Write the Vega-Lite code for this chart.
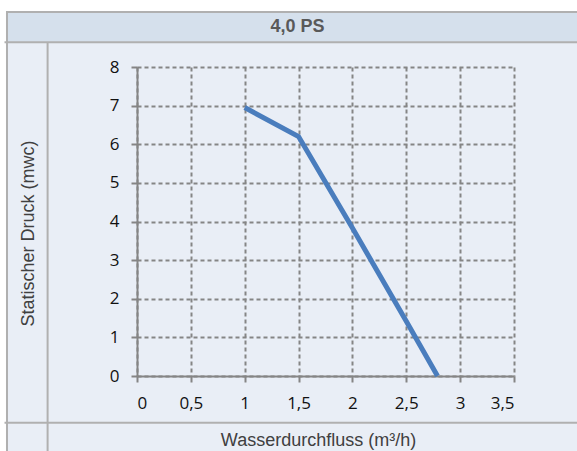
{
  "$schema": "https://vega.github.io/schema/vega-lite/v6.json",
  "autosize": {"type": "none"},
  "width": 377,
  "height": 309,
  "padding": {"left": 137, "top": 67, "right": 63, "bottom": 75},
  "background": "#e9eef6",
  "config": {
    "view": {"stroke": null},
    "axis": {
      "labelOverlap": false,
      "grid": true, "gridDash": [4, 3], "gridColor": "#858585", "gridWidth": 2,
      "domainColor": "#858585", "domainWidth": 2,
      "tickColor": "#858585", "tickWidth": 2, "tickSize": 6,
      "labelFont": "Open Sans", "labelFontSize": 17, "labelColor": "#111111",
      "titleFont": "Liberation Sans", "titleFontSize": 18, "titleFontWeight": "normal", "titleColor": "#404040",
      "titleBaseline": "middle", "titleAlign": "center"
    },
    "axisX": {
      "tickCount": 7,
      "labelExpr": "replace(format(datum.value, '~g'), '.', ',')",
      "labelPadding": 13,
      "titleX": 181, "titleY": 64
    },
    "axisY": {
      "tickCount": 8,
      "labelPadding": 12,
      "titleX": -109, "titleY": 166, "titleAngle": -90
    }
  },
  "data": {"values": [
    {"q": 1, "p": 6.95},
    {"q": 1.5, "p": 6.2},
    {"q": 2, "p": 3.83},
    {"q": 2.5, "p": 1.42},
    {"q": 2.79, "p": 0}
  ]},
  "layer": [
    {
      "data": {"values": [{}]},
      "mark": {"type": "rect", "fill": "white", "strokeWidth": 0},
      "encoding": {
        "x": {"datum": -1.6, "type": "quantitative"},
        "x2": {"datum": 4.8},
        "y": {"datum": 10.5, "type": "quantitative"},
        "y2": {"datum": 9.424}
      }
    },
    {
      "data": {"values": [{}]},
      "mark": {"type": "rect", "fill": "white", "strokeWidth": 0},
      "encoding": {
        "x": {"datum": -1.6, "type": "quantitative"},
        "x2": {"datum": -1.207},
        "y": {"datum": 10.5, "type": "quantitative"},
        "y2": {"datum": -2.6}
      }
    },
    {
      "data": {"values": [{}]},
      "mark": {"type": "rect", "fill": "#d5e0ec", "strokeWidth": 0},
      "encoding": {
        "x": {"datum": -1.207, "type": "quantitative"},
        "x2": {"datum": 4.8},
        "y": {"datum": 9.424, "type": "quantitative"},
        "y2": {"datum": 8.64}
      }
    },
    {
      "data": {"values": [{}]},
      "mark": {"type": "rule", "color": "#b0b0b0", "strokeWidth": 2},
      "encoding": {
        "x": {"datum": -1.215, "type": "quantitative"},
        "x2": {"datum": 4.8},
        "y": {"datum": 9.424, "type": "quantitative"}
      }
    },
    {
      "data": {"values": [{}]},
      "mark": {"type": "rule", "color": "#b0b0b0", "strokeWidth": 2},
      "encoding": {
        "x": {"datum": -1.23, "type": "quantitative"},
        "x2": {"datum": 4.8},
        "y": {"datum": 8.64, "type": "quantitative"}
      }
    },
    {
      "data": {"values": [{}]},
      "mark": {"type": "rule", "color": "#b0b0b0", "strokeWidth": 2},
      "encoding": {
        "x": {"datum": -1.23, "type": "quantitative"},
        "x2": {"datum": 4.8},
        "y": {"datum": -1.209, "type": "quantitative"}
      }
    },
    {
      "data": {"values": [{}]},
      "mark": {"type": "rule", "color": "#b0b0b0", "strokeWidth": 2},
      "encoding": {
        "x": {"datum": -1.207, "type": "quantitative"},
        "y": {"datum": 9.45, "type": "quantitative"},
        "y2": {"datum": -2.6}
      }
    },
    {
      "data": {"values": [{}]},
      "mark": {"type": "rule", "color": "#b0b0b0", "strokeWidth": 2},
      "encoding": {
        "x": {"datum": -0.83, "type": "quantitative"},
        "y": {"datum": 8.64, "type": "quantitative"},
        "y2": {"datum": -2.6}
      }
    },
    {
      "data": {"values": [{}]},
      "mark": {"type": "text", "font": "Liberation Sans", "fontSize": 18, "fontWeight": "bold", "color": "#595959", "align": "center", "baseline": "middle"},
      "encoding": {
        "x": {"datum": 1.49, "type": "quantitative"},
        "y": {"datum": 9.03, "type": "quantitative"},
        "text": {"value": "4,0 PS"}
      }
    },
    {
      "mark": {"type": "line", "color": "#4a7dbd", "strokeWidth": 5},
      "encoding": {
        "x": {
          "field": "q", "type": "quantitative",
          "scale": {"domain": [0, 3.5], "nice": false, "zero": false},
          "title": "Wasserdurchfluss (m³/h)"
        },
        "y": {
          "field": "p", "type": "quantitative",
          "scale": {"domain": [0, 8], "nice": false, "zero": false},
          "title": "Statischer Druck (mwc)"
        }
      }
    }
  ]
}
